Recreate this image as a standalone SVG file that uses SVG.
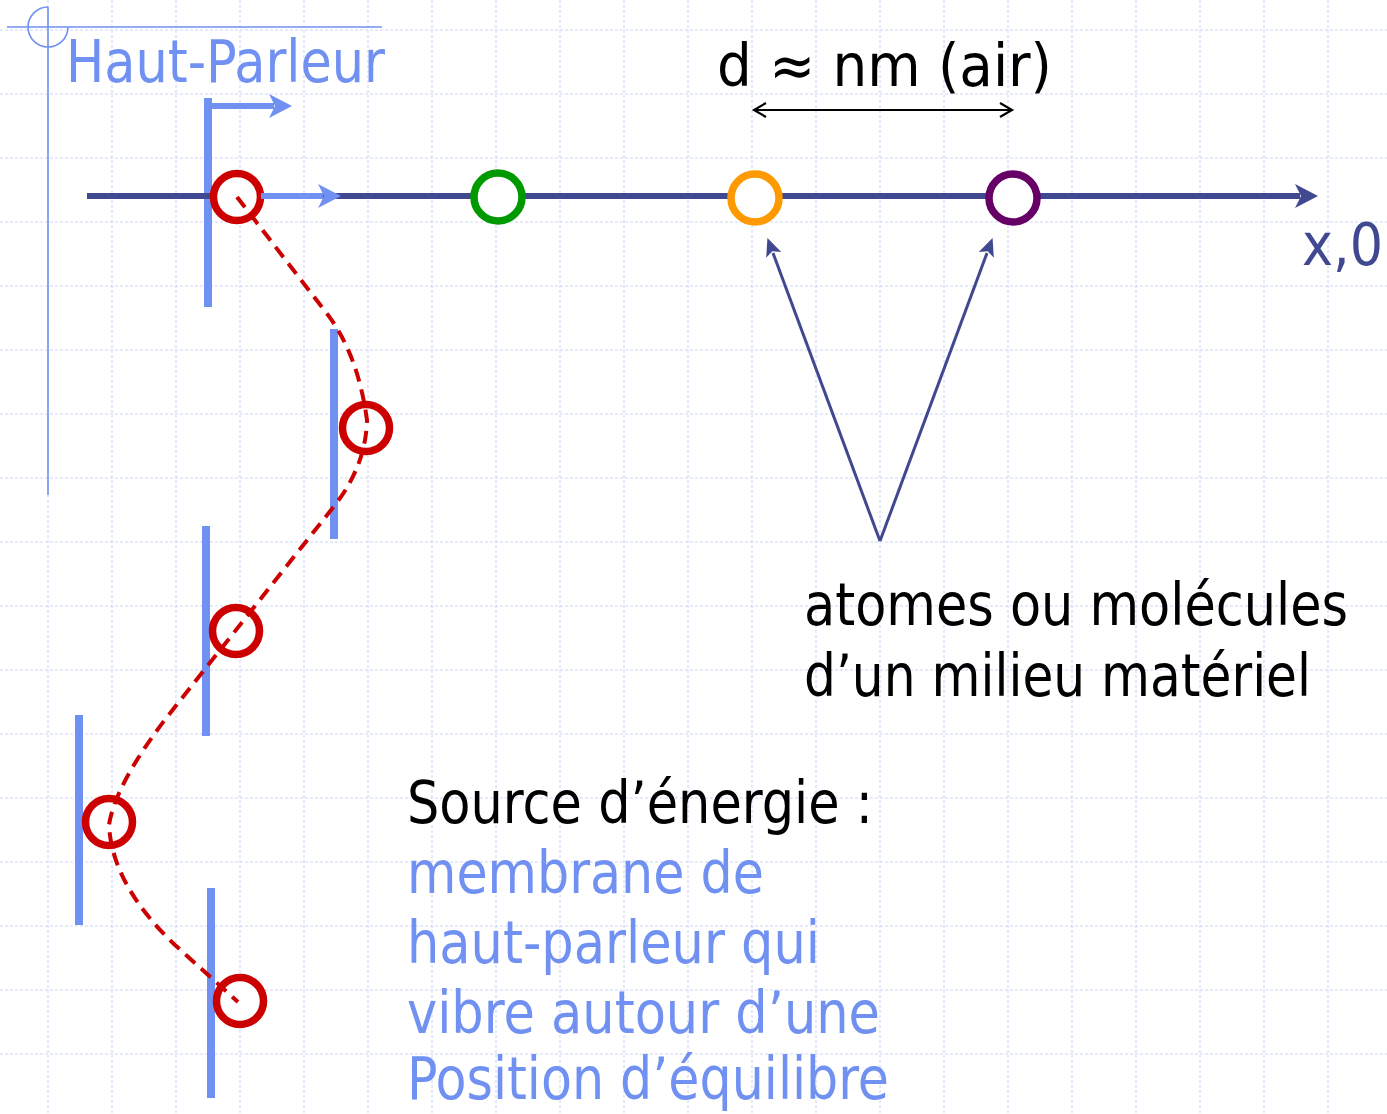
<svg xmlns="http://www.w3.org/2000/svg" width="1387" height="1114" viewBox="0 0 1387 1114">
  <style>
    .grid line { stroke: #cdd8f8; stroke-width: 1.1; stroke-dasharray: 3 2; }
    .deco { stroke: #7090f2; stroke-width: 1.6; fill: none; }
    .bar { stroke: #7090f2; stroke-width: 8; }
    .atom { fill: #ffffff; stroke-width: 7.5; }
    .txt { font-family: "DejaVu Sans Condensed", "DejaVu Sans", Verdana, sans-serif; font-size: 59px; }
    .blue { fill: #7090f2; }
    .black { fill: #000000; }
    .navy { fill: #404890; }
  </style>
  <defs>
    <marker id="arrNavy" markerUnits="userSpaceOnUse" viewBox="-6 -13 25 26" markerWidth="25" markerHeight="26" refX="0" refY="0" orient="auto" overflow="visible">
      <path d="M-5,-12 L18,0 L-5,12 L1,0 Z" fill="#404890"/>
    </marker>
    <marker id="arrBlue" markerUnits="userSpaceOnUse" viewBox="-6 -13 25 26" markerWidth="25" markerHeight="26" refX="0" refY="0" orient="auto" overflow="visible">
      <path d="M-5,-12 L18,0 L-5,12 L1,0 Z" fill="#7090f2"/>
    </marker>
    <marker id="arrThin" markerUnits="userSpaceOnUse" viewBox="-3 -9 21 18" markerWidth="21" markerHeight="18" refX="0" refY="0" orient="auto" overflow="visible">
      <path d="M-2,-8 L16,0 L-2,8 L2,0 Z" fill="#404890"/>
    </marker>
    <marker id="chev" markerUnits="userSpaceOnUse" viewBox="-14 -9 16 18" markerWidth="16" markerHeight="18" refX="0" refY="0" orient="auto-start-reverse" overflow="visible">
      <path d="M-12,-7 L0,0 L-12,7" fill="none" stroke="#000000" stroke-width="2.2"/>
    </marker>
  </defs>

  <rect width="1387" height="1114" fill="#ffffff"/>

  <g id="grid" class="grid">
    <line x1="0" y1="30" x2="1387" y2="30"/>
    <line x1="0" y1="94" x2="1387" y2="94"/>
    <line x1="0" y1="158" x2="1387" y2="158"/>
    <line x1="0" y1="222" x2="1387" y2="222"/>
    <line x1="0" y1="286" x2="1387" y2="286"/>
    <line x1="0" y1="350" x2="1387" y2="350"/>
    <line x1="0" y1="414" x2="1387" y2="414"/>
    <line x1="0" y1="478" x2="1387" y2="478"/>
    <line x1="0" y1="542" x2="1387" y2="542"/>
    <line x1="0" y1="606" x2="1387" y2="606"/>
    <line x1="0" y1="670" x2="1387" y2="670"/>
    <line x1="0" y1="734" x2="1387" y2="734"/>
    <line x1="0" y1="798" x2="1387" y2="798"/>
    <line x1="0" y1="862" x2="1387" y2="862"/>
    <line x1="0" y1="926" x2="1387" y2="926"/>
    <line x1="0" y1="990" x2="1387" y2="990"/>
    <line x1="0" y1="1054" x2="1387" y2="1054"/>
    <line x1="48" y1="0" x2="48" y2="1114"/>
    <line x1="112" y1="0" x2="112" y2="1114"/>
    <line x1="176" y1="0" x2="176" y2="1114"/>
    <line x1="240" y1="0" x2="240" y2="1114"/>
    <line x1="304" y1="0" x2="304" y2="1114"/>
    <line x1="368" y1="0" x2="368" y2="1114"/>
    <line x1="432" y1="0" x2="432" y2="1114"/>
    <line x1="496" y1="0" x2="496" y2="1114"/>
    <line x1="560" y1="0" x2="560" y2="1114"/>
    <line x1="624" y1="0" x2="624" y2="1114"/>
    <line x1="688" y1="0" x2="688" y2="1114"/>
    <line x1="752" y1="0" x2="752" y2="1114"/>
    <line x1="816" y1="0" x2="816" y2="1114"/>
    <line x1="880" y1="0" x2="880" y2="1114"/>
    <line x1="944" y1="0" x2="944" y2="1114"/>
    <line x1="1008" y1="0" x2="1008" y2="1114"/>
    <line x1="1072" y1="0" x2="1072" y2="1114"/>
    <line x1="1136" y1="0" x2="1136" y2="1114"/>
    <line x1="1200" y1="0" x2="1200" y2="1114"/>
    <line x1="1264" y1="0" x2="1264" y2="1114"/>
    <line x1="1328" y1="0" x2="1328" y2="1114"/>
  </g>

  <g id="decoration">
    <line class="deco" x1="7" y1="27" x2="382" y2="27"/>
    <line class="deco" x1="48" y1="7" x2="48" y2="495"/>
    <path class="deco" d="M48,7 A20,20 0 1 0 68,27"/>
  </g>

  <g id="membranes">
    <line id="membrane-1" class="bar" x1="208" y1="98" x2="208" y2="307"/>
    <line id="membrane-2" class="bar" x1="334" y1="329" x2="334" y2="539"/>
    <line id="membrane-3" class="bar" x1="206" y1="526" x2="206" y2="736"/>
    <line id="membrane-4" class="bar" x1="79" y1="715" x2="79" y2="925"/>
    <line id="membrane-5" class="bar" x1="211" y1="888" x2="211" y2="1098"/>
  </g>

  <g id="connectors">
    <line id="axis" x1="87" y1="196" x2="1300" y2="196" stroke="#404890" stroke-width="6" marker-end="url(#arrNavy)"/>
  </g>

  <g id="atoms">
    <circle id="atom-red-1" class="atom" cx="237" cy="197" r="23.5" stroke="#cc0000"/>
    <circle id="atom-green" class="atom" cx="498" cy="197" r="24" stroke="#009900"/>
    <circle id="atom-orange" class="atom" cx="755" cy="198" r="24" stroke="#ff9900"/>
    <circle id="atom-purple" class="atom" cx="1013" cy="198" r="24" stroke="#660066"/>
    <circle id="atom-red-2" class="atom" cx="366" cy="428" r="23.5" stroke="#cc0000"/>
    <circle id="atom-red-3" class="atom" cx="236" cy="631" r="23.5" stroke="#cc0000"/>
    <circle id="atom-red-4" class="atom" cx="109" cy="822" r="23.5" stroke="#cc0000"/>
    <circle id="atom-red-5" class="atom" cx="240" cy="1001" r="23.5" stroke="#cc0000"/>
  </g>

  <g id="arrows">
    <line x1="212" y1="106" x2="274" y2="106" stroke="#7090f2" stroke-width="6" marker-end="url(#arrBlue)"/>
    <line x1="261" y1="196" x2="323" y2="196" stroke="#7090f2" stroke-width="6" marker-end="url(#arrBlue)"/>
    <path d="M237,197 L328,315 Q358,355 367,420 Q366,465 335,505 L167,717 Q115,785 109,825 Q112,885 175,945 L238,1002" fill="none" stroke="#cc0000" stroke-width="4" stroke-dasharray="13 8"/>
    <line x1="880" y1="541" x2="773" y2="253" stroke="#404890" stroke-width="3" marker-end="url(#arrThin)"/>
    <line x1="880" y1="541" x2="987" y2="253" stroke="#404890" stroke-width="3" marker-end="url(#arrThin)"/>
    <line x1="754" y1="110" x2="1012" y2="110" stroke="#000000" stroke-width="2.2" marker-start="url(#chev)" marker-end="url(#chev)"/>
  </g>

  <g id="labels">
    <text class="txt blue" x="66" y="82" textLength="319" lengthAdjust="spacingAndGlyphs">Haut-Parleur</text>
    <text class="txt black" x="717" y="86" textLength="335" lengthAdjust="spacingAndGlyphs">d ≈ nm (air)</text>
    <text class="txt navy" x="1302" y="265" textLength="81" lengthAdjust="spacingAndGlyphs">x,0</text>
    <text class="txt black" x="804" y="625" textLength="544" lengthAdjust="spacingAndGlyphs">atomes ou molécules</text>
    <text class="txt black" x="804" y="696" textLength="507" lengthAdjust="spacingAndGlyphs">d’un milieu matériel</text>
    <text class="txt black" x="407" y="823" textLength="466" lengthAdjust="spacingAndGlyphs">Source d’énergie :</text>
    <text class="txt blue" x="407" y="893" textLength="357" lengthAdjust="spacingAndGlyphs">membrane de</text>
    <text class="txt blue" x="407" y="963" textLength="413" lengthAdjust="spacingAndGlyphs">haut-parleur qui</text>
    <text class="txt blue" x="407" y="1033" textLength="473" lengthAdjust="spacingAndGlyphs">vibre autour d’une</text>
    <text class="txt blue" x="407" y="1099" textLength="482" lengthAdjust="spacingAndGlyphs">Position d’équilibre</text>
  </g>
</svg>
